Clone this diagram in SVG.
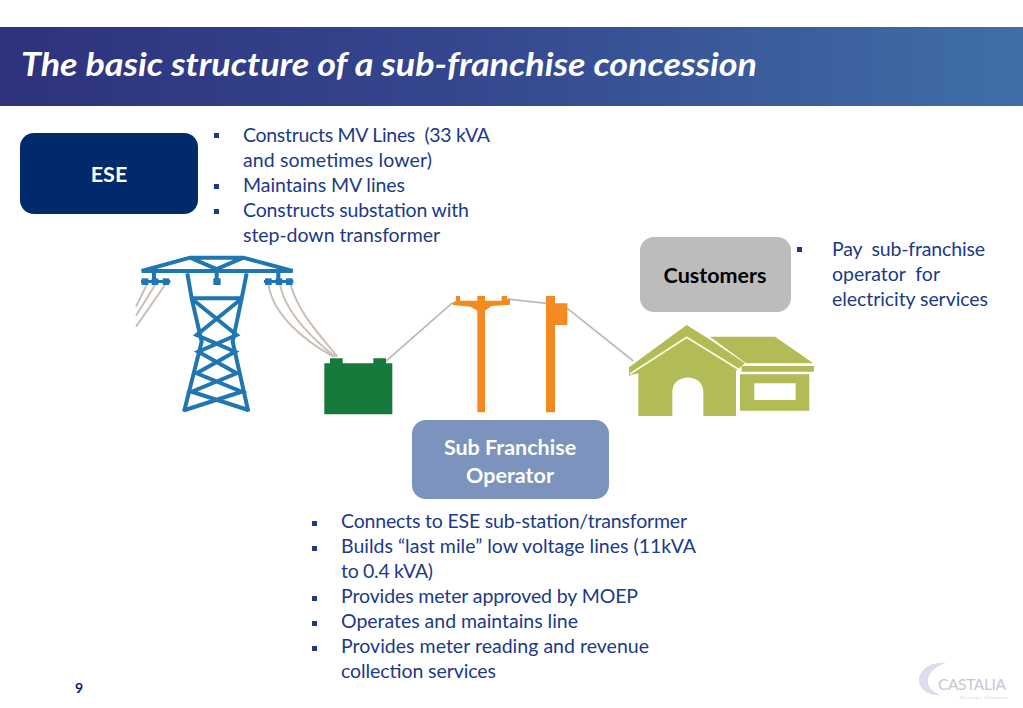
<svg xmlns="http://www.w3.org/2000/svg" width="1023" height="708" viewBox="0 0 1023 708">
<defs>
<linearGradient id="hdr" x1="0" y1="0" x2="1" y2="0"><stop offset="0" stop-color="#2e327e"/><stop offset="0.45" stop-color="#35468f"/><stop offset="1" stop-color="#3f6fa8"/></linearGradient>
</defs>
<style>
text{font-family:"Lato","Carlito","Liberation Sans",sans-serif;white-space:pre}
.b{font-size:19.5px;fill:#1b3a88}
.n{font-size:21.5px;font-weight:700;text-anchor:middle}
.s{fill:#1b3a88}
.tw{fill:none;stroke:#1f76b0;stroke-width:12;stroke-linejoin:miter}
.twf{fill:#1f76b0}
.wg{fill:none;stroke:#c9c0b8;stroke-width:6}
.wl{fill:none;stroke:#bdb8b8;stroke-width:5}
.or{fill:#f58a20}
.gr{fill:#b2bb55}
.wh{fill:none;stroke:#fbfbe8;stroke-width:5}
</style>
<rect width="1023" height="708" fill="#fff"/>
<rect id="header" x="0" y="27" width="1023" height="79" fill="url(#hdr)"/>
<text x="21" y="76" font-size="32.5" font-weight="700" font-style="italic" fill="#fff" textLength="736" lengthAdjust="spacingAndGlyphs">The basic structure of a sub-franchise concession</text>

<g id="connectors">
<g transform="translate(130 245) scale(.33333)">
<path class="wg" d="M50 120L18 185M75 120L18 212M105 120L18 245"/>
<path class="wg" d="M415 118C430 210 520 285 610 335M450 118C465 200 540 275 615 335M482 118C505 205 570 270 622 335"/>
</g>
<g transform="translate(430 280) scale(.33333)">
<path class="wl" d="M-133 244L68 68M240 58L350 70M412 85L610 243"/>
</g>
</g>

<g id="tower" transform="translate(130 245) scale(.33333)">
<path class="tw" d="M35 78L180 38H340L488 78ZM180 38L260 72L340 38"/>
<path class="tw" d="M172 85L185 160L215 290L162 500M350 85L335 160L308 290L355 500M185 160H335"/>
<path class="tw" d="M190 165L320 270L205 320L320 385L185 440L355 495M330 165L200 270L315 320L200 385L335 440L165 495"/>
<path class="tw" d="M72 78V105M260 72V105M445 78V105"/>
<rect class="twf" x="33" y="105" width="88" height="9"/>
<rect class="twf" x="35" y="100" width="20" height="20"/>
<rect class="twf" x="65" y="100" width="20" height="20"/>
<rect class="twf" x="98" y="100" width="20" height="20"/>
<rect class="twf" x="250" y="100" width="22" height="20"/>
<rect class="twf" x="402" y="105" width="88" height="9"/>
<rect class="twf" x="405" y="100" width="20" height="20"/>
<rect class="twf" x="437" y="100" width="20" height="20"/>
<rect class="twf" x="468" y="100" width="20" height="20"/>
</g>

<g id="transformer" transform="translate(130 245) scale(.33333)">
<path fill="#157a3c" d="M583 355H600V340H638V355H730V340H768V355H787V508H583Z"/>
</g>

<g id="poles" transform="translate(430 280) scale(.33333)">
<path class="or" d="M68 68L78 62V48H90V62H142V48H165V62H215V48H232V58L240 55V74L185 78L165 92V397H142V92L122 80L68 75Z"/>
<path class="or" d="M348 48H375V70H412V135H375V397H348Z"/>
</g>

<g id="house" transform="translate(430 280) scale(.33333)">
<path class="gr" d="M597 262L770 135L838 178L945 250L918 272V408H820V335C820 278 727 278 727 335V408H625V280L597 287Z"/>
<path class="wh" d="M600 282L770 172L925 268"/>
<path class="gr" d="M840 170H1035L1150 250H948Z"/>
<path class="gr" d="M935 258H1152V275H935Z"/>
<path class="gr" fill-rule="evenodd" d="M930 283H1138V392H930ZM973 310V360H1097V310Z"/>
</g>

<g id="ese">
<rect x="20" y="133" width="178" height="81" rx="14" fill="#002a6c"/>
<text class="n" x="109" y="182" fill="#fff">ESE</text>
</g>
<g id="customers">
<rect x="640" y="237" width="151" height="75" rx="14" fill="#bcbcbc"/>
<text class="n" x="715" y="283" fill="#000">Customers</text>
</g>
<g id="operator">
<rect x="412" y="420" width="197" height="79" rx="14" fill="#7b93bd"/>
<text class="n" x="510" y="455" fill="#fff">Sub Franchise</text>
<text class="n" x="510" y="483" fill="#fff">Operator</text>
</g>

<g id="ese-notes">
<rect class="s" x="214" y="133" width="5" height="5"/>
<rect class="s" x="214" y="184" width="5" height="5"/>
<rect class="s" x="214" y="209" width="5" height="5"/>
<text class="b" x="243" y="142" textLength="247">Constructs MV Lines  (33 kVA</text>
<text class="b" x="243" y="167" textLength="189">and sometimes lower)</text>
<text class="b" x="243" y="192" textLength="162">Maintains MV lines</text>
<text class="b" x="243" y="217" textLength="226">Constructs substation with</text>
<text class="b" x="243" y="242" textLength="197">step-down transformer</text>
</g>
<g id="customer-notes">
<rect class="s" x="797" y="247" width="5" height="5"/>
<text class="b" x="832" y="256" textLength="153">Pay  sub-franchise</text>
<text class="b" x="832" y="281" textLength="108">operator  for</text>
<text class="b" x="832" y="306" textLength="156">electricity services</text>
</g>
<g id="operator-notes">
<rect class="s" x="312" y="521" width="5" height="5"/>
<rect class="s" x="312" y="546" width="5" height="5"/>
<rect class="s" x="312" y="596" width="5" height="5"/>
<rect class="s" x="312" y="621" width="5" height="5"/>
<rect class="s" x="312" y="646" width="5" height="5"/>
<text class="b" x="341" y="528" textLength="346">Connects to ESE sub-station/transformer</text>
<text class="b" x="341" y="553" textLength="355">Builds “last mile” low voltage lines (11kVA</text>
<text class="b" x="341" y="578" textLength="92">to 0.4 kVA)</text>
<text class="b" x="341" y="603" textLength="297">Provides meter approved by MOEP</text>
<text class="b" x="341" y="628" textLength="237">Operates and maintains line</text>
<text class="b" x="341" y="653" textLength="308">Provides meter reading and revenue</text>
<text class="b" x="341" y="678" textLength="155">collection services</text>
</g>

<text x="75" y="693" font-size="14" font-weight="700" fill="#00207a">9</text>

<g id="logo">
<path fill="#dcdcee" d="M946 663C930 661 919 671 919 680C919 690 929 696 940 695C931 691 927 686 928 679C929 672 936 666 946 663Z"/>
<text x="938" y="690" font-size="15.500" fill="#c4c8d2" textLength="68">CASTALIA</text>
<text x="960" y="698.500" font-size="4.500" fill="#cfd2da" textLength="47">Strategic Solutions</text>
</g>
</svg>
